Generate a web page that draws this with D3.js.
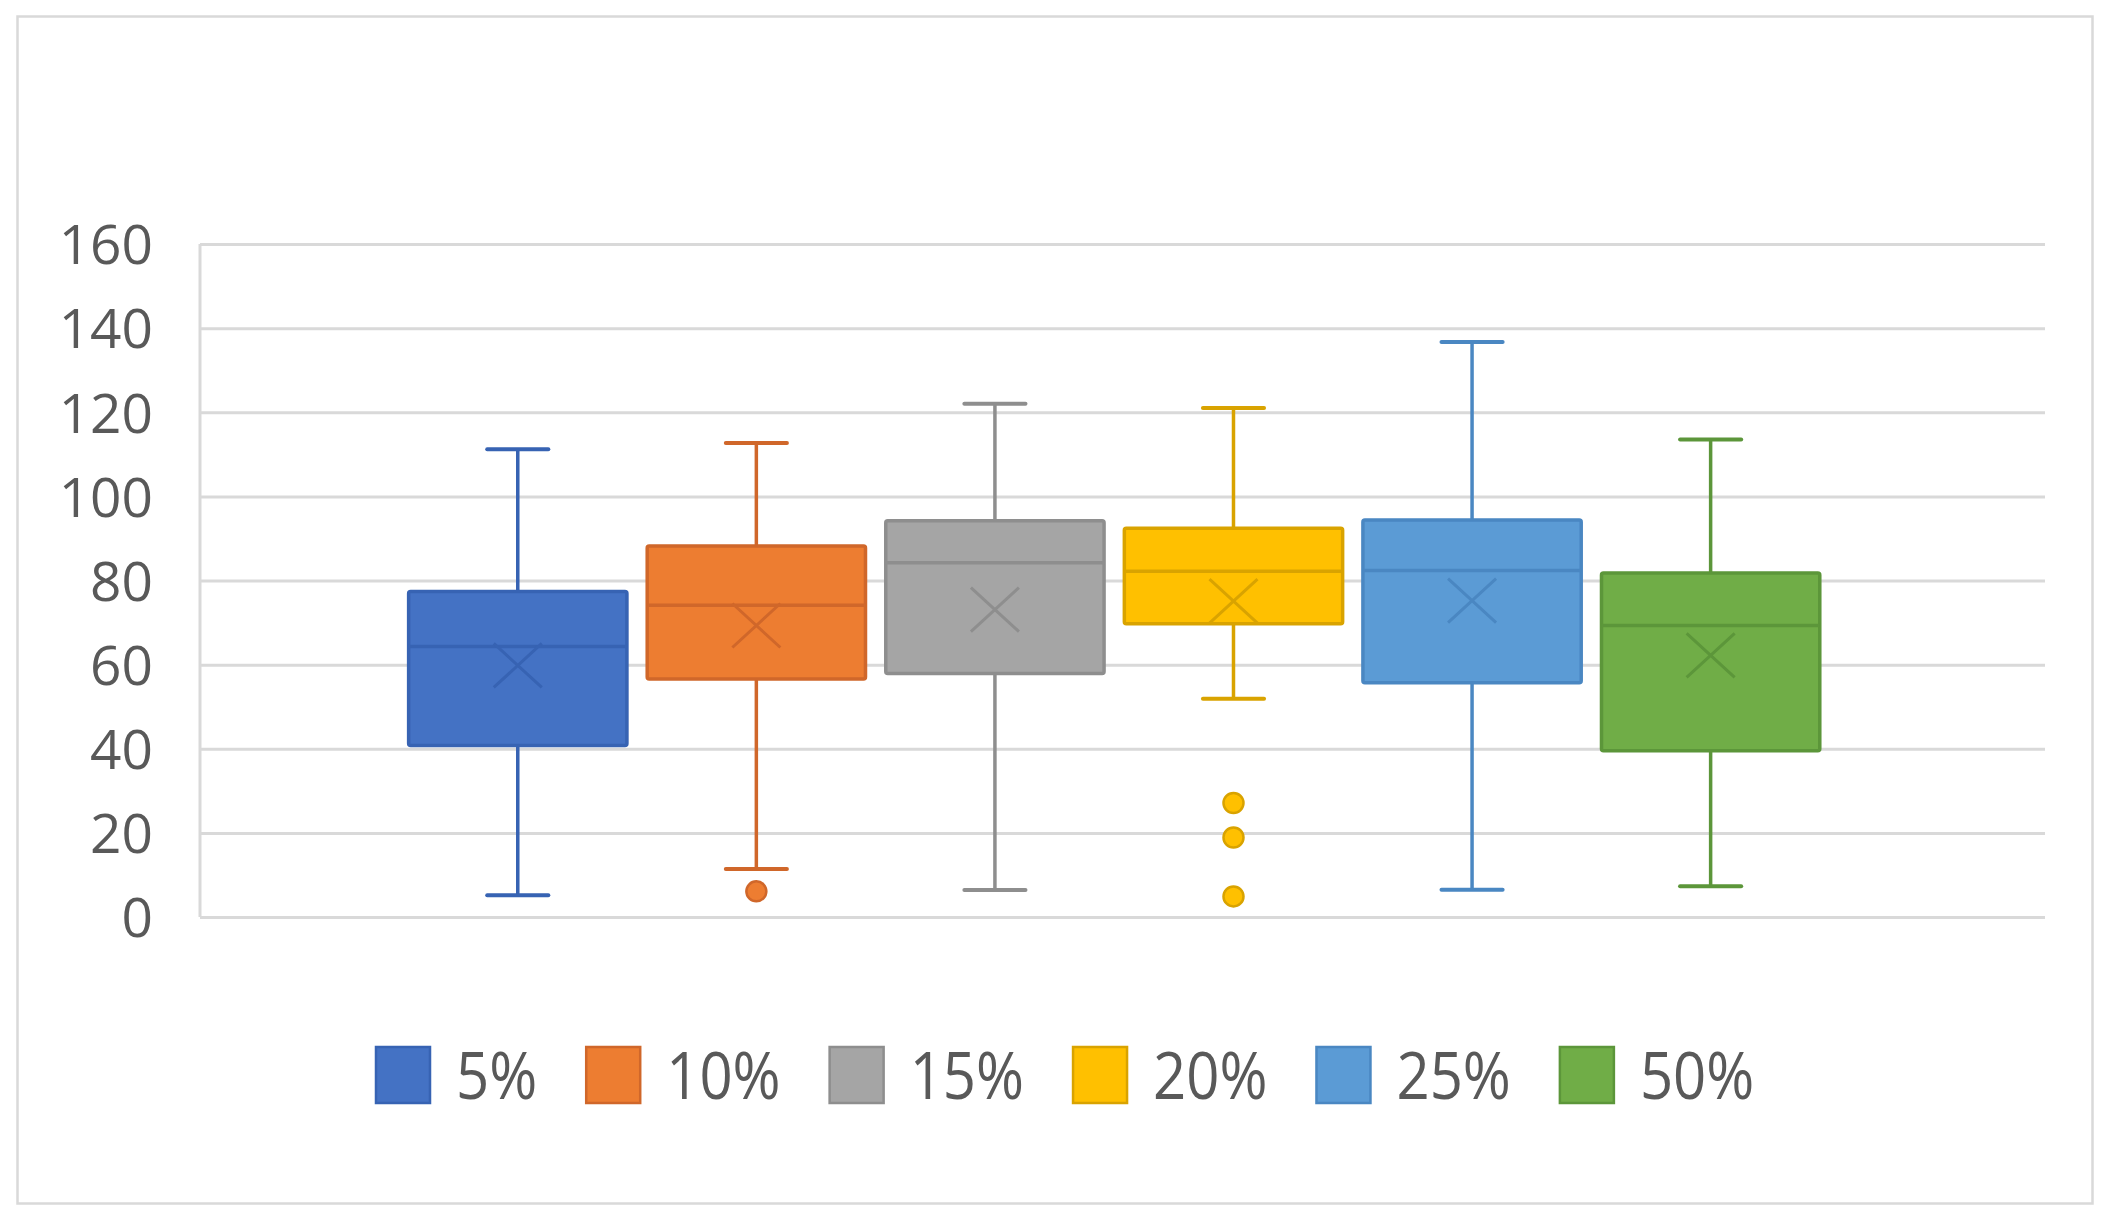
<!DOCTYPE html>
<html>
<head>
<meta charset="utf-8">
<script src="https://cdn.jsdelivr.net/npm/d3@7"></script>
<style>
  html, body { margin: 0; padding: 0; background: #ffffff; }
  svg { display: block; }
</style>
</head>
<body>
<script>
// ---- data ----
const series = ["5%", "10%", "15%", "20%", "25%", "50%"];
const whiskerHigh = [111.2, 112.7, 122.0, 121.0, 136.7, 113.5];
const q3Values = [77.4, 88.2, 94.2, 92.4, 94.4, 81.8];
const medianValues = [64.3, 74.1, 84.2, 82.2, 82.4, 69.3];
const meanValues = [59.8, 69.3, 73.1, 75.1, 75.2, 62.2];
const q1Values = [40.8, 56.6, 57.9, 69.7, 55.7, 39.5];
const whiskerLow = [5.2, 11.4, 6.4, 51.9, 6.5, 7.3];
const outlierValues = [[], [6.1], [], [27.1, 18.9, 4.9], [], []];
const yTicks = [0, 20, 40, 60, 80, 100, 120, 140, 160];
const fillColors = ["#4472C4", "#ED7D31", "#A5A5A5", "#FFC000", "#5B9BD5", "#70AD47"];
const lineColors = ["#3763B3", "#D0672A", "#8E8E8E", "#D9A300", "#4A87C2", "#5C963A"];

// ---- layout ----
const W = 2124, H = 1230;
const plot = { left: 200, right: 2045, top: 244, bottom: 917 };

const svg = d3.select("body").append("svg").attr("width", W).attr("height", H);

// outer chart border
svg.append("rect")
  .attr("x", 17.5).attr("y", 16.5).attr("width", 2075).attr("height", 1187)
  .attr("fill", "#ffffff").attr("stroke", "#d9d9d9").attr("stroke-width", 2.5);

const y = d3.scaleLinear().domain([0, 160]).range([plot.bottom, plot.top]);

// single category, clustered series
const x0 = d3.scaleBand().domain(["all"]).range([plot.left, plot.right])
  .paddingInner(0).paddingOuter(0.145).align(0.48);
const x1 = d3.scaleBand().domain(series).range([0, x0.bandwidth()])
  .paddingInner(0.085).paddingOuter(0.04);

// gridlines via axis
const grid = svg.append("g").attr("transform", `translate(${plot.left},0)`)
  .call(d3.axisLeft(y).tickValues(yTicks).tickSize(-(plot.right - plot.left)).tickFormat(""));
grid.select(".domain").remove();
grid.selectAll(".tick line").attr("stroke", "#d9d9d9").attr("stroke-width", 3);

// left axis line
svg.append("line")
  .attr("x1", plot.left).attr("x2", plot.left)
  .attr("y1", y(160)).attr("y2", y(0))
  .attr("stroke", "#d9d9d9").attr("stroke-width", 3);

// y labels
const yAxis = svg.append("g").attr("transform", `translate(${plot.left - 47},0)`)
  .call(d3.axisLeft(y).tickValues(yTicks).tickSize(0).tickPadding(0));
yAxis.select(".domain").remove();
yAxis.selectAll(".tick text")
  .attr("font-family", "'Open Sans', sans-serif")
  .attr("font-size", 55)
  .attr("fill", "#595959")
  .attr("dy", "0.36em");

// boxes
const data = series.map((s, i) => ({
  s, i,
  hi: whiskerHigh[i], q3: q3Values[i], med: medianValues[i], mean: meanValues[i],
  q1: q1Values[i], lo: whiskerLow[i], out: outlierValues[i]
}));

const g = svg.append("g").attr("transform", `translate(${x0("all")},0)`);
const bw = x1.bandwidth();
const capW = bw * 0.28;

const box = g.selectAll("g.box").data(data).join("g").attr("class", "box")
  .attr("transform", d => `translate(${x1(d.s)},0)`);

// whiskers
box.append("line")
  .attr("x1", bw / 2).attr("x2", bw / 2)
  .attr("y1", d => y(d.hi)).attr("y2", d => y(d.q3))
  .attr("stroke", d => lineColors[d.i]).attr("stroke-width", 3.5);
box.append("line")
  .attr("x1", bw / 2).attr("x2", bw / 2)
  .attr("y1", d => y(d.q1)).attr("y2", d => y(d.lo))
  .attr("stroke", d => lineColors[d.i]).attr("stroke-width", 3.5);
// caps
box.append("line")
  .attr("x1", bw / 2 - capW / 2).attr("x2", bw / 2 + capW / 2)
  .attr("y1", d => y(d.hi)).attr("y2", d => y(d.hi))
  .attr("stroke", d => lineColors[d.i]).attr("stroke-width", 4).attr("stroke-linecap", "round");
box.append("line")
  .attr("x1", bw / 2 - capW / 2).attr("x2", bw / 2 + capW / 2)
  .attr("y1", d => y(d.lo)).attr("y2", d => y(d.lo))
  .attr("stroke", d => lineColors[d.i]).attr("stroke-width", 4).attr("stroke-linecap", "round");

// box rect
box.append("rect")
  .attr("x", 0).attr("width", bw)
  .attr("y", d => y(d.q3)).attr("height", d => y(d.q1) - y(d.q3))
  .attr("fill", d => fillColors[d.i])
  .attr("stroke", d => lineColors[d.i]).attr("stroke-width", 3.5)
  .attr("rx", 2);

// median
box.append("line")
  .attr("x1", 0).attr("x2", bw)
  .attr("y1", d => y(d.med)).attr("y2", d => y(d.med))
  .attr("stroke", d => lineColors[d.i]).attr("stroke-width", 3.5);

// mean X
const mx = 24, my = 22;
box.append("path")
  .attr("d", d => {
    const cx = bw / 2, cy = y(d.mean);
    return `M${cx - mx},${cy - my}L${cx + mx},${cy + my}M${cx - mx},${cy + my}L${cx + mx},${cy - my}`;
  })
  .attr("stroke", d => lineColors[d.i]).attr("stroke-width", 3).attr("fill", "none");

// outliers
box.selectAll("circle").data(d => d.out.map(v => ({ v, i: d.i }))).join("circle")
  .attr("cx", bw / 2).attr("cy", d => y(d.v)).attr("r", 10)
  .attr("fill", d => fillColors[d.i])
  .attr("stroke", d => lineColors[d.i]).attr("stroke-width", 2.5);

// legend
const legend = svg.append("g");
const swW = 54, swH = 56, gap = 26, itemGap = 49, sx = 0.88;
const items = legend.selectAll("g").data(series).join("g");
items.append("rect")
  .attr("x", 0).attr("y", 0).attr("width", swW).attr("height", swH)
  .attr("fill", (d, i) => fillColors[i])
  .attr("stroke", (d, i) => lineColors[i]).attr("stroke-width", 2.5);
items.append("text")
  .text(d => d)
  .attr("font-family", "'Open Sans', sans-serif")
  .attr("font-size", 66)
  .attr("fill", "#595959")
  .attr("transform", `translate(${swW + gap},${swH - 4}) scale(${sx},1)`);
let cursor = 0;
const widths = [];
items.each(function () {
  const t = d3.select(this).select("text").node();
  widths.push(swW + gap + t.getComputedTextLength() * sx);
});
const startX = 376;
items.attr("transform", (d, i) => {
  const tx = startX + cursor;
  cursor += widths[i] + itemGap;
  return `translate(${tx},1047)`;
});
</script>
</body>
</html>
